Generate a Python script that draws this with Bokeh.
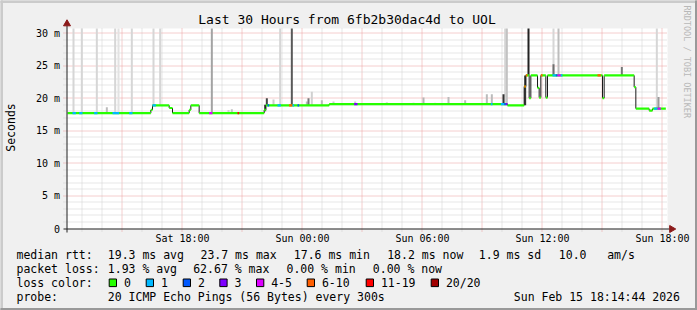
import math
import numpy as np
import pandas as pd
from bokeh.plotting import figure
from bokeh.models import Range1d, Label, BoxAnnotation, ColumnDataSource
from bokeh.core.properties import value
from bokeh.embed import file_html
from bokeh.resources import INLINE

# ---------------- data ----------------
# median RTT (ms) as steps: each value holds from its start time to the next start
med_start = ["2026-02-14 12:15", "2026-02-14 16:25", "2026-02-14 16:30", "2026-02-14 17:20",
             "2026-02-14 17:30", "2026-02-14 18:20", "2026-02-14 18:25", "2026-02-14 18:50",
             "2026-02-14 22:05", "2026-02-14 22:10", "2026-02-15 01:20", "2026-02-15 10:15",
             "2026-02-15 11:05", "2026-02-15 11:10", "2026-02-15 11:20", "2026-02-15 11:25",
             "2026-02-15 11:45", "2026-02-15 11:50", "2026-02-15 11:55", "2026-02-15 12:10",
             "2026-02-15 12:15", "2026-02-15 15:00", "2026-02-15 15:05", "2026-02-15 16:35",
             "2026-02-15 16:40", "2026-02-15 17:20", "2026-02-15 17:30"]
med_ms = [17.7, 18.2, 18.9, 18.5, 17.7, 18.2, 18.9, 17.7, 18.2, 18.9, 19.1, 18.9,
          21.8, 23.5, 20.0, 23.5, 21.6, 20.1, 23.5, 20.1, 23.5, 20.0, 23.5, 21.7,
          18.4, 18.1, 18.4]
med_end = "2026-02-15 18:10"

# packet-loss periods (class = lost pings out of 20)
loss_start = ["2026-02-14 12:30", "2026-02-14 12:50", "2026-02-14 13:35", "2026-02-14 14:30",
              "2026-02-14 15:20", "2026-02-14 16:30", "2026-02-14 19:20", "2026-02-14 20:45",
              "2026-02-14 22:15", "2026-02-14 22:45", "2026-02-14 23:20", "2026-02-14 23:30",
              "2026-02-14 23:45", "2026-02-15 02:35", "2026-02-15 09:25", "2026-02-15 09:55",
              "2026-02-15 10:05", "2026-02-15 10:10", "2026-02-15 11:05", "2026-02-15 11:10",
              "2026-02-15 11:55", "2026-02-15 12:30", "2026-02-15 12:40", "2026-02-15 12:45",
              "2026-02-15 12:55", "2026-02-15 14:45", "2026-02-15 17:35", "2026-02-15 17:45"]
loss_end = ["2026-02-14 12:40", "2026-02-14 13:00", "2026-02-14 13:45", "2026-02-14 14:50",
            "2026-02-14 15:30", "2026-02-14 16:40", "2026-02-14 19:30", "2026-02-14 20:50",
            "2026-02-14 22:20", "2026-02-14 22:55", "2026-02-14 23:30", "2026-02-14 23:35",
            "2026-02-14 23:50", "2026-02-15 02:45", "2026-02-15 09:30", "2026-02-15 10:05",
            "2026-02-15 10:10", "2026-02-15 10:15", "2026-02-15 11:10", "2026-02-15 11:15",
            "2026-02-15 12:00", "2026-02-15 12:40", "2026-02-15 12:45", "2026-02-15 12:55",
            "2026-02-15 13:00", "2026-02-15 14:55", "2026-02-15 17:45", "2026-02-15 17:55"]
loss_class = ["1", "1", "1", "1", "1", "1", "4-5", "11-19", "2", "1", "6-10", "1",
              "2", "3", "1", "1", "2", "3", "6-10", "6-10", "6-10", "1", "2", "4-5",
              "1", "6-10", "1", "4-5"]

# smoke: spread of the 20 pings of a round (35 = beyond the top of the chart)
smoke_time = ["2026-02-14 12:30", "2026-02-14 12:55", "2026-02-14 13:40", "2026-02-14 14:35",
              "2026-02-14 14:45", "2026-02-14 15:25", "2026-02-14 16:30", "2026-02-14 16:50",
              "2026-02-14 19:25", "2026-02-14 22:50", "2026-02-14 23:25", "2026-02-15 10:05",
              "2026-02-15 10:10", "2026-02-15 12:30", "2026-02-15 12:45", "2026-02-15 17:40",
              "2026-02-15 11:15",
              "2026-02-14 14:10", "2026-02-14 20:15", "2026-02-14 20:25", "2026-02-14 22:05",
              "2026-02-14 22:10", "2026-02-14 22:30", "2026-02-15 00:10", "2026-02-15 00:15",
              "2026-02-15 00:25", "2026-02-15 00:55", "2026-02-15 01:30", "2026-02-15 02:35",
              "2026-02-15 04:10", "2026-02-15 05:30", "2026-02-15 06:00", "2026-02-15 06:35",
              "2026-02-15 07:15", "2026-02-15 08:05", "2026-02-15 09:10", "2026-02-15 09:25",
              "2026-02-15 10:00", "2026-02-15 11:05", "2026-02-15 12:30", "2026-02-15 15:55",
              "2026-02-15 17:45"]
smoke_low = [17.7, 17.7, 17.7, 17.7, 17.7, 17.7, 18.9, 18.9, 17.7, 18.9, 18.9, 19.1,
             19.1, 23.5, 23.5, 18.4, 23.5,
             17.7, 17.7, 17.7, 18.0, 18.9, 18.9, 18.9, 18.9, 18.9, 18.9, 19.1, 19.1,
             19.1, 19.1, 19.1, 19.1, 19.1, 19.1, 19.1, 19.1, 19.1, 18.9, 23.5, 23.5, 18.4]
smoke_high = [35, 35, 35, 35, 35, 35, 35, 35, 35, 35, 35, 35, 35, 35, 35, 35, 35,
              18.6, 18.2, 18.3, 19.0, 20.0, 19.8, 19.5, 20.0, 21.0, 19.7, 19.5, 19.5,
              19.4, 19.3, 20.1, 19.3, 20.2, 19.7, 20.6, 20.6, 20.6, 23.5, 25.2, 24.8, 20.2]
smoke_shade = ["#d6d6d6", "#d6d6d6", "#d6d6d6", "#d6d6d6", "#e2e2e2", "#d6d6d6", "#d6d6d6",
               "#d6d6d6", "#a3a3a3", "#d6d6d6", "#595959", "#d6d6d6", "#c2c2c2", "#d6d6d6",
               "#bdbdbd", "#d6d6d6", "#222222",
               "#bbbbbb", "#d0d0d0", "#c0c0c0", "#333333", "#444444", "#cccccc", "#bbbbbb",
               "#777777", "#d0d0d0", "#bbbbbb", "#cccccc", "#cccccc", "#dddddd", "#cccccc",
               "#b5b5b5", "#dddddd", "#bbbbbb", "#bbbbbb", "#bbbbbb", "#bbbbbb", "#333333",
               "#333333", "#707070", "#777777", "#999999"]

loss_labels = ["0", "1", "2", "3", "4-5", "6-10", "11-19", "20/20"]
loss_colors = ["#26ff00", "#00b8ff", "#0059ff", "#7e00ff", "#dd00ff", "#ff5e00", "#ff0000", "#a10000"]

y_ticks = [5, 10, 15, 20, 25, 30]
y_minor = [v for v in range(1, 31) if v % 5]
y_tick_labels = ["0", "5 m", "10 m", "15 m", "20 m", "25 m", "30 m"]
x_label_times = ["2026-02-14 18:00", "2026-02-15 00:00", "2026-02-15 06:00",
                 "2026-02-15 12:00", "2026-02-15 18:00"]
x_label_text = ["Sat 18:00", "Sun 00:00", "Sun 06:00", "Sun 12:00", "Sun 18:00"]
x_start, x_end = "2026-02-14 12:15", "2026-02-15 18:15"
y_top = 30.7

title_text = "Last 30 Hours from 6fb2b30dac4d to UOL"
rtt_stats = ["19.3 ms avg", "23.7 ms max", "17.6 ms min", "18.2 ms now", "1.9 ms sd", "10.0", "am/s"]
loss_stats = ["1.93 % avg", "62.67 % max", "0.00 % min", "0.00 % now"]
probe_text = "20 ICMP Echo Pings (56 Bytes) every 300s"
stamp_text = "Sun Feb 15 18:14:44 2026"

# ---------------- scales: plot area 600x200 px at (67,28) in a 697x310 canvas ----------------
W, H = 697, 310
PL, PR, PT, PB = 67, 667, 28, 228
xs, xe = pd.Timestamp(x_start), pd.Timestamp(x_end)
tpp = (xe - xs) / (PR - PL)            # time per pixel
vpp = y_top / (PB - PT)                # ms per pixel
MONO = "DejaVu Sans Mono"

def crisp_y(v):
    """move a horizontal hairline onto the centre of its pixel row"""
    row = np.floor(PB - np.asarray(v, dtype=float) / vpp)
    return (PB - (row + 0.5)) * vpp

def crisp_x(t):
    """move a vertical hairline onto the centre of its pixel column"""
    return pd.DatetimeIndex(t) - 0.5 * tpp

p = figure(width=W, height=H, output_backend="svg", toolbar_location=None,
           x_axis_location=None, y_axis_location=None,
           x_range=Range1d(xs - PL * tpp, xe + (W - PR) * tpp),
           y_range=Range1d(-(H - PB) * vpp, PB * vpp),
           min_border=0, min_border_left=0, min_border_right=0,
           min_border_top=0, min_border_bottom=0)
p.title.visible = False
p.grid.visible = False
p.background_fill_color = "#f0f0f0"
p.border_fill_color = "#f0f0f0"
p.outline_line_color = None

# canvas of the graph
p.quad(left=[xs], right=[xe], bottom=[0], top=[y_top], fill_color="white", line_color=None)

# grid (minor then major), extending a few pixels past the axes as ticks
hours = pd.date_range("2026-02-14 13:00", "2026-02-15 18:00", freq="1h")
minor_h = crisp_x([h for h in hours if h.hour % 3])
major_h = crisp_x([h for h in hours if h.hour % 3 == 0])
for tl, col in ((minor_h, "#cfcfcf"), (major_h, "#e99c9c")):
    p.segment(x0=list(tl), x1=list(tl), y0=-3 * vpp, y1=y_top, line_color=col,
              line_width=1, line_dash="1 1")
for tl, col in ((crisp_y(y_minor), "#cfcfcf"), (crisp_y(y_ticks), "#e99c9c")):
    p.segment(x0=xs - 4 * tpp, x1=xe, y0=list(tl), y1=list(tl), line_color=col,
              line_width=1, line_dash="1 1")

# smoke
st = pd.to_datetime(smoke_time)
p.quad(left="l", right="r", bottom="b", top="t", fill_color="c", line_color=None,
       source=ColumnDataSource(dict(l=st, r=st + pd.Timedelta(minutes=6),
                                    b=smoke_low, t=np.minimum(smoke_high, y_top),
                                    c=smoke_shade)))

# median: joins, then loss-coloured band
starts = pd.to_datetime(med_start)
ends = list(starts[1:]) + [pd.Timestamp(med_end)]
p.segment(x0=list(starts[1:]), y0=med_ms[:-1], x1=list(starts[1:]), y1=med_ms[1:],
          line_color="#1a1a1a", line_width=1)
p.segment(x0=list(starts), y0=med_ms, x1=ends, y1=med_ms,
          line_color=loss_colors[0], line_width=2.2)
ls, le = pd.to_datetime(loss_start), pd.to_datetime(loss_end)
idx = np.searchsorted(starts.values, ls.values, side="right") - 1
ly = [med_ms[i] for i in idx]
lc = [loss_colors[loss_labels.index(c)] for c in loss_class]
p.segment(x0="x0", y0="y", x1="x1", y1="y", line_color="c", line_width=2.2,
          source=ColumnDataSource(dict(x0=ls, x1=le, y=ly, c=lc)))

# axes with arrows
AX = "#222222"
ax_x = xs - 0.5 * tpp
ax_y = -0.5 * vpp
p.segment(x0=[ax_x], x1=[ax_x], y0=[-4 * vpp], y1=[y_top + 3 * vpp], line_color=AX, line_width=1)
p.segment(x0=[xs - 4 * tpp], x1=[xe + 2 * tpp], y0=[ax_y], y1=[ax_y], line_color=AX, line_width=1)
p.scatter(x=[ax_x], y=[y_top + 4.7 * vpp], marker="triangle", size=7,
          fill_color="#8b1a1a", line_color="#8b1a1a")
p.scatter(x=[xe + 4.2 * tpp], y=[ax_y], marker="triangle", size=7, angle=-math.pi / 2,
          fill_color="#8b1a1a", line_color="#8b1a1a")

# tick labels
p.text(x=pd.to_datetime(x_label_times), y=-10 * vpp, text=x_label_text,
       text_font=value(MONO), text_font_size=value("10px"), text_color="black",
       text_align="center", text_baseline="middle")
p.text(x=xs - 7.5 * tpp, y=[0] + y_ticks, text=y_tick_labels,
       text_font=value(MONO), text_font_size=value("10px"), text_color="black",
       text_align="right", text_baseline="middle")

# ---------------- texts and boxes in canvas pixels ----------------
def text(X, Y, s, size="11.5px", align="left", color="black", angle=0.0):
    p.add_layout(Label(x=X, y=H - Y, x_units="screen", y_units="screen", text=s,
                       text_font=MONO, text_font_size=size, text_align=align,
                       text_baseline="middle", text_color=color, angle=angle))

def box(x0, y0, x1, y1, fill, line=None):
    p.add_layout(BoxAnnotation(left=x0, right=x1, top=H - y0, bottom=H - y1,
                               left_units="screen", right_units="screen",
                               top_units="screen", bottom_units="screen",
                               fill_color=fill, fill_alpha=1.0,
                               line_color=line if line else fill, line_alpha=1.0,
                               line_width=1, level="overlay"))

text(346.5, 19, title_text, size="13px", align="center")
text(10, 127, "Seconds", align="center", angle=math.pi / 2)
text(686.5, 5, "RRDTOOL / TOBI OETIKER", size="8.5px", color="#b8b8b8", angle=-math.pi / 2)

r1, r2, r3, r4 = 254.3, 268.3, 282.3, 296.0
text(16, r1, "median rtt:")
for X, s in zip([107.3, 200, 293.3, 386.7, 478.3, 558.3, 606.7], rtt_stats):
    text(X, r1, s)
text(16, r2, "packet loss:")
for X, s in zip([107.3, 192.7, 286, 372.3], loss_stats):
    text(X, r2, s)
text(16, r3, "loss color:")
for X, lab, col in zip([108.7, 145.7, 182.7, 219.3, 256, 306.7, 365.7, 430.7], loss_labels, loss_colors):
    box(X, r3 - 3.8, X + 7.3, r3 + 3.8, col, "black")
    text(X + 14.7, r3, lab)
text(16, r4, "probe:")
text(107.3, r4, probe_text)
text(513.3, r4, stamp_text)

box(0, 0, W, 2, "#cbcbcb")
box(0, 0, 2, H, "#cbcbcb")
box(0, H - 2, W, H, "#999999")
box(W - 2, 0, W, H, "#999999")

open("out.html", "w").write(file_html(p, INLINE))
